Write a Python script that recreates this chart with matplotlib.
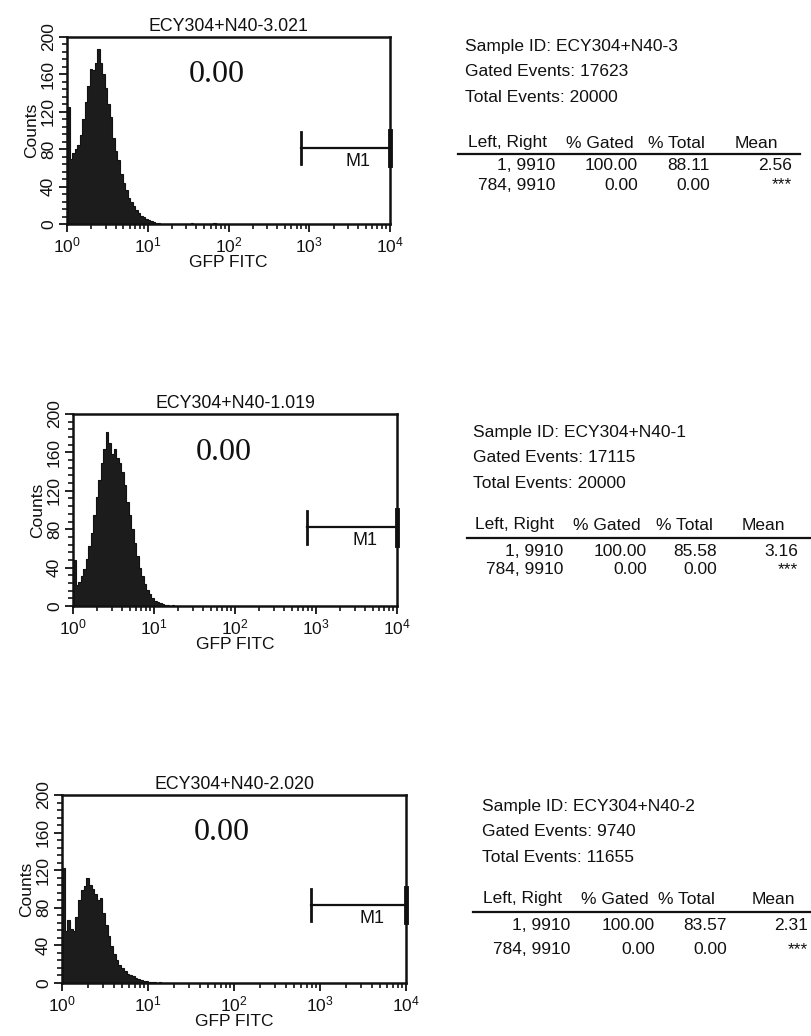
import numpy as np
import matplotlib
matplotlib.use("Agg")
import matplotlib.pyplot as plt
from matplotlib.ticker import FixedLocator, NullFormatter, MultipleLocator

plt.rcParams['font.family'] = ['Liberation Sans', 'DejaVu Sans']
plt.rcParams['mathtext.default'] = 'regular'

# histogram data: counts per channel, 32 channels per decade starting at 10^0
counts_3 = [125, 70, 76, 80, 84, 95, 112, 130, 148, 166, 165, 172, 187, 172, 160, 145,
            128, 114, 92, 78, 68, 53, 44, 36, 28, 23, 19, 15, 12, 9, 7, 5,
            4, 3, 2, 1, 1, 0, 0, 0, 0, 0, 0, 0, 0, 0, 0, 0,
            0, 1, 0, 0, 0, 0, 0, 0, 0, 0, 1, 0]
counts_1 = [48, 22, 25, 31, 39, 49, 62, 76, 95, 114, 131, 149, 164, 181, 170, 158,
            164, 154, 149, 140, 126, 108, 95, 80, 66, 52, 40, 31, 23, 17, 12, 8,
            5, 4, 3, 2, 1, 1, 0, 1, 0, 0]
counts_2 = [122, 55, 67, 57, 55, 70, 88, 99, 103, 112, 104, 100, 95, 88, 90, 74,
            62, 50, 39, 31, 25, 19, 16, 13, 10, 8, 7, 5, 4, 3, 2, 2,
            1, 1, 1, 0, 1, 0, 0, 0]
channels_per_decade = 32

titles = ['ECY304+N40-3.021', 'ECY304+N40-1.019', 'ECY304+N40-2.020']
sample_ids = ['ECY304+N40-3', 'ECY304+N40-1', 'ECY304+N40-2']
gated_events = [17623, 17115, 9740]
total_events = [20000, 20000, 11655]
marker_pct = ['0.00', '0.00', '0.00']
gate_left, gate_right = 784, 9910
gate_ranges = ['1, 9910', '784, 9910']
pct_gated = [['100.00', '0.00'], ['100.00', '0.00'], ['100.00', '0.00']]
pct_total = [['88.11', '0.00'], ['85.58', '0.00'], ['83.57', '0.00']]
means = [['2.56', '***'], ['3.16', '***'], ['2.31', '***']]
x_ticks = [1, 10, 100, 1000, 10000]
x_ticklabels = ['$10^0$', '$10^1$', '$10^2$', '$10^3$', '$10^4$']
y_ticks = [0, 40, 80, 120, 160, 200]

all_counts = [counts_3, counts_1, counts_2]

W, H = 811, 1036
fig = plt.figure(figsize=(W / 100, H / 100), dpi=100)

def fy(y):
    return 1 - y / H

# axes boxes in pixels: left, right, top, bottom
boxes = [(67, 390, 37, 224), (73, 397, 414, 606), (62, 406, 795, 983)]
m1_y = [81, 82, 83]

# table layout in pixels
tables = [
    dict(x0=465, lines=[47, 72, 97], head=143, rule=(458, 800, 154), rows=[166, 185],
         hx=[468, 566, 648, 735], vx=[555, 638, 710, 792]),
    dict(x0=473, lines=[433, 458, 483], head=525, rule=(467, 811, 538), rows=[551, 570],
         hx=[475, 573, 656, 742], vx=[563, 647, 717, 798]),
    dict(x0=482, lines=[806, 832, 857], head=899, rule=(473, 811, 912), rows=[925, 950],
         hx=[483, 581, 658, 752], vx=[570, 655, 727, 808]),
]

for k in range(3):
    l, r, t, b = boxes[k]
    ax = fig.add_axes([l / W, 1 - b / H, (r - l) / W, (b - t) / H])
    c = np.array(all_counts[k], dtype=float)
    edges = 10 ** (np.arange(len(c) + 1) / channels_per_decade)
    ax.stairs(c, edges, fill=True, color='#1c1c1c', linewidth=0)
    ax.stairs(c, edges, color='#111111', linewidth=0.8)

    ax.set_xscale('log')
    ax.set_xlim(1, 10000)
    ax.set_ylim(0, 200)
    ax.xaxis.set_major_locator(FixedLocator(x_ticks))
    ax.set_xticklabels(x_ticklabels)
    minors = [m * 10 ** d for d in range(4) for m in range(2, 10)]
    ax.xaxis.set_minor_locator(FixedLocator(minors))
    ax.xaxis.set_minor_formatter(NullFormatter())
    ax.set_yticks(y_ticks)
    ax.yaxis.set_minor_locator(MultipleLocator(8))
    ax.tick_params(axis='both', which='major', direction='out', length=6, width=1.3,
                   labelsize=12.5, colors='#111111')
    ax.tick_params(axis='both', which='minor', direction='out', length=3.5, width=1.1)
    ax.tick_params(axis='x', pad=2)
    ax.tick_params(axis='y', pad=2, labelrotation=90)
    for lab in ax.get_yticklabels():
        lab.set_va('center')
    for s in ax.spines.values():
        s.set_linewidth(1.8)
        s.set_color('#111111')

    ax.set_title(titles[k], fontsize=12.8, pad=4, color='#111111')
    ax.set_ylabel('Counts', fontsize=12.5, labelpad=1, color='#111111')
    ax.set_xlabel('GFP FITC', fontsize=12.5, labelpad=0, color='#111111')

    ax.text(10 ** 1.86, 160, marker_pct[k], family='Liberation Serif', fontsize=23,
            ha='center', va='center', color='#111111')

    # M1 gate marker
    y0 = m1_y[k]
    ax.plot([gate_left, gate_right], [y0, y0], color='#111111', lw=1.6)
    ax.plot([gate_left, gate_left], [y0 - 17, y0 + 17], color='#111111', lw=2)
    ax.plot([gate_right, gate_right], [y0 - 18, y0 + 18], color='#111111', lw=3.5,
            clip_on=False)
    ax.text(10 ** 3.6, y0 - 5, 'M1', fontsize=13, ha='center', va='top', color='#111111')

    # statistics table
    tb = tables[k]
    txt = dict(fontsize=12.5, color='#111111', va='center')
    fig.text(tb['x0'] / W, fy(tb['lines'][0]), 'Sample ID: ' + sample_ids[k], **txt)
    fig.text(tb['x0'] / W, fy(tb['lines'][1]), 'Gated Events: %d' % gated_events[k], **txt)
    fig.text(tb['x0'] / W, fy(tb['lines'][2]), 'Total Events: %d' % total_events[k], **txt)
    for hx, h in zip(tb['hx'], ['Left, Right', '% Gated', '% Total', 'Mean']):
        fig.text(hx / W, fy(tb['head']), h, ha='left', **txt)
    x1, x2, yr = tb['rule']
    fig.add_artist(plt.Line2D([x1 / W, x2 / W], [fy(yr), fy(yr)], color='#111111', lw=1.6))
    for j in range(2):
        vals = [gate_ranges[j], pct_gated[k][j], pct_total[k][j], means[k][j]]
        for vx, v in zip(tb['vx'], vals):
            fig.text(vx / W, fy(tb['rows'][j]), v, ha='right', **txt)

fig.savefig('out.png', dpi=100, facecolor='white')
